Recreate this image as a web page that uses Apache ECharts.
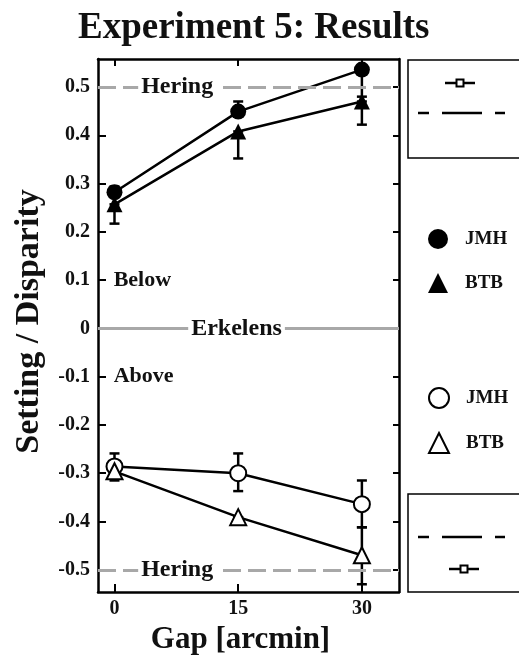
<!DOCTYPE html>
<html>
<head>
<meta charset="utf-8">
<style>
  html, body { margin: 0; padding: 0; background: #fff; }
  #main { width: 519px; height: 661px; }
</style>
<script src="https://cdn.jsdelivr.net/npm/echarts@6/dist/echarts.min.js"></script>
</head>
<body>
<div id="main"></div>
<script>
const gaps = [0, 15, 30];
const yTicks = [0.5, 0.4, 0.3, 0.2, 0.1, 0, -0.1, -0.2, -0.3, -0.4, -0.5];

// filled symbols (setting below), open symbols (setting above)
const jmhBelow = [0.282, 0.449, 0.536];
const btbBelow = [0.257, 0.408, 0.470];
const jmhAbove = [-0.286, -0.300, -0.364];
const btbAbove = [-0.296, -0.391, -0.470];

// error bar ends [low, high]
const jmhBelowErr = [[0.282, 0.294], [0.449, 0.470], [0.480, 0.536]];
const btbBelowErr = [[0.217, 0.257], [0.352, 0.408], [0.422, 0.470]];
const jmhAboveErr = [[-0.286, -0.259], [-0.337, -0.259], [-0.412, -0.315]];
const btbAboveErr = [[-0.315, -0.296], [-0.391, -0.391], [-0.530, -0.412]];

const FONT = 'Liberation Serif';
const chart = echarts.init(document.getElementById('main'));

function pts(ys) {
  return gaps.map((g, i) => [g, ys[i]]);
}
function errs(ys, e) {
  return gaps.map((g, i) => [g, ys[i], e[i][0], e[i][1]]);
}

function renderErr(params, api) {
  const x = api.value(0);
  const lo = api.coord([x, api.value(2)]);
  const hi = api.coord([x, api.value(3)]);
  const style = { stroke: '#000', lineWidth: 2.5 };
  return {
    type: 'group',
    children: [
      { type: 'line', shape: { x1: lo[0], y1: lo[1], x2: hi[0], y2: hi[1] }, style },
      { type: 'line', shape: { x1: lo[0] - 5, y1: lo[1], x2: lo[0] + 5, y2: lo[1] }, style },
      { type: 'line', shape: { x1: hi[0] - 5, y1: hi[1], x2: hi[0] + 5, y2: hi[1] }, style },
    ],
  };
}

function errSeries(name, ys, e) {
  return {
    name: name + ' err',
    type: 'custom',
    renderItem: renderErr,
    data: errs(ys, e),
    z: 1,
    silent: true,
  };
}

function lineSeries(name, ys, symbol, filled) {
  return {
    name,
    type: 'line',
    data: pts(ys),
    symbol,
    symbolSize: 16,
    showAllSymbol: true,
    lineStyle: { color: '#000', width: 2.5 },
    itemStyle: {
      color: filled ? '#000' : '#fff',
      borderColor: '#000',
      borderWidth: filled ? 0 : 2,
    },
    z: 3,
  };
}

const labelFont = { fontFamily: FONT, fontWeight: 'bold', color: '#111' };
const refLabel = { show: true, fontSize: 24, backgroundColor: '#fff', padding: [0, 3], ...labelFont };

const annotations = {
  type: 'line',
  data: [],
  silent: true,
  markLine: {
    symbol: 'none',
    silent: true,
    label: { show: false },
    data: [
      { yAxis: 0.5, lineStyle: { color: '#a8a8a8', width: 3, type: [18, 7] } },
      { yAxis: 0, lineStyle: { color: '#a8a8a8', width: 3, type: 'solid' } },
      { yAxis: -0.5, lineStyle: { color: '#a8a8a8', width: 3, type: [18, 7] } },
    ],
  },
  markPoint: {
    symbol: 'rect',
    symbolSize: 0,
    silent: true,
    data: [
      { coord: [7.6, 0.5], label: { ...refLabel, formatter: 'Hering' } },
      { coord: [14.8, 0], label: { ...refLabel, formatter: 'Erkelens' } },
      { coord: [7.6, -0.5], label: { ...refLabel, formatter: 'Hering' } },
      { coord: [-0.1, 0.1], label: { show: true, formatter: 'Below', fontSize: 22, align: 'left', ...labelFont } },
      { coord: [-0.1, -0.1], label: { show: true, formatter: 'Above', fontSize: 22, align: 'left', ...labelFont } },
    ],
  },
  z: 2,
};

const legendText = { fontFamily: FONT, fontWeight: 'bold', fontSize: 19, color: '#111', padding: [0, 0, 0, 12] };

function insetGraphic(boxTop, dashY, markY, markX) {
  const s = { stroke: '#000', lineWidth: 2.5 };
  return [
    { type: 'rect', shape: { x: 408, y: boxTop, width: 130, height: 98 }, style: { fill: '#fff', stroke: '#000', lineWidth: 1.5 } },
    { type: 'line', shape: { x1: 418, y1: dashY, x2: 429, y2: dashY }, style: s },
    { type: 'line', shape: { x1: 442, y1: dashY, x2: 482, y2: dashY }, style: s },
    { type: 'line', shape: { x1: 495, y1: dashY, x2: 505, y2: dashY }, style: s },
    { type: 'line', shape: { x1: markX - 15, y1: markY, x2: markX + 15, y2: markY }, style: s },
    { type: 'rect', shape: { x: markX - 3.5, y: markY - 3.5, width: 7, height: 7 }, style: { fill: '#fff', stroke: '#000', lineWidth: 2 } },
  ];
}

const axisLine = { onZero: false, lineStyle: { color: '#000', width: 2.5 } };
const tickFont = { fontFamily: FONT, fontWeight: 'bold', fontSize: 20, color: '#111' };

const option = {
  backgroundColor: '#fff',
  animation: false,
  title: {
    text: 'Experiment 5: Results',
    left: 73,
    top: 5,
    textStyle: { fontFamily: FONT, fontWeight: 'bold', fontSize: 37, color: '#111' },
  },
  grid: { left: 98, right: 120, top: 59, bottom: 69 },
  legend: [
    {
      orient: 'vertical',
      left: 428,
      top: 229,
      padding: 0,
      itemWidth: 20,
      itemHeight: 20,
      itemGap: 24,
      selectedMode: false,
      textStyle: legendText,
      formatter: n => n.split(' ')[0],
      data: [
        { name: 'JMH', icon: 'circle', itemStyle: { color: '#000', borderWidth: 0 } },
        { name: 'BTB', icon: 'triangle', itemStyle: { color: '#000', borderWidth: 0 } },
      ],
    },
    {
      orient: 'vertical',
      left: 428,
      top: 387,
      padding: 0,
      itemWidth: 20,
      itemHeight: 20,
      itemGap: 23,
      selectedMode: false,
      textStyle: legendText,
      formatter: n => n.split(' ')[0],
      data: [
        { name: 'JMH above', icon: 'circle', itemStyle: { color: '#fff', borderColor: '#000', borderWidth: 2 } },
        { name: 'BTB above', icon: 'triangle', itemStyle: { color: '#fff', borderColor: '#000', borderWidth: 2 } },
      ],
    },
  ],
  xAxis: [
    {
      type: 'value',
      min: -2,
      max: 34.5,
      name: 'Gap [arcmin]',
      nameLocation: 'middle',
      nameGap: 32,
      nameTextStyle: { fontFamily: FONT, fontWeight: 'bold', fontSize: 31, color: '#111', padding: [0, 16, 0, 0] },
      axisLine,
      axisTick: { inside: true, length: 8, customValues: gaps, lineStyle: { color: '#000', width: 2 } },
      axisLabel: { customValues: gaps, margin: 7, ...tickFont },
      splitLine: { show: false },
    },
    {
      type: 'value',
      position: 'top',
      min: -2,
      max: 34.5,
      axisLine,
      axisTick: { inside: true, length: 7, customValues: gaps, lineStyle: { color: '#000', width: 2 } },
      axisLabel: { show: false },
      splitLine: { show: false },
    },
  ],
  yAxis: [
    {
      type: 'value',
      min: -0.546,
      max: 0.558,
      name: 'Setting / Disparity',
      nameLocation: 'middle',
      nameGap: 52,
      nameTextStyle: { fontFamily: FONT, fontWeight: 'bold', fontSize: 34, color: '#111', padding: [0, 0, 0, 8] },
      axisLine,
      axisTick: { inside: true, length: 8, customValues: yTicks, lineStyle: { color: '#000', width: 2 } },
      axisLabel: {
        customValues: yTicks,
        margin: 8,
        ...tickFont,
        formatter: v => (Math.abs(v) < 1e-9 ? '0' : v.toFixed(1)),
      },
      splitLine: { show: false },
    },
    {
      type: 'value',
      position: 'right',
      min: -0.546,
      max: 0.558,
      axisLine,
      axisTick: { inside: true, length: 6, customValues: yTicks, lineStyle: { color: '#000', width: 2 } },
      axisLabel: { show: false },
      splitLine: { show: false },
    },
  ],
  graphic: [
    ...insetGraphic(60, 113, 83, 460),
    ...insetGraphic(494, 537, 569, 464),
  ],
  series: [
    annotations,
    errSeries('JMH', jmhBelow, jmhBelowErr),
    errSeries('BTB', btbBelow, btbBelowErr),
    errSeries('JMH above', jmhAbove, jmhAboveErr),
    errSeries('BTB above', btbAbove, btbAboveErr),
    lineSeries('JMH', jmhBelow, 'circle', true),
    lineSeries('BTB', btbBelow, 'triangle', true),
    lineSeries('JMH above', jmhAbove, 'circle', false),
    lineSeries('BTB above', btbAbove, 'triangle', false),
  ],
};

chart.setOption(option);
</script>
</body>
</html>
